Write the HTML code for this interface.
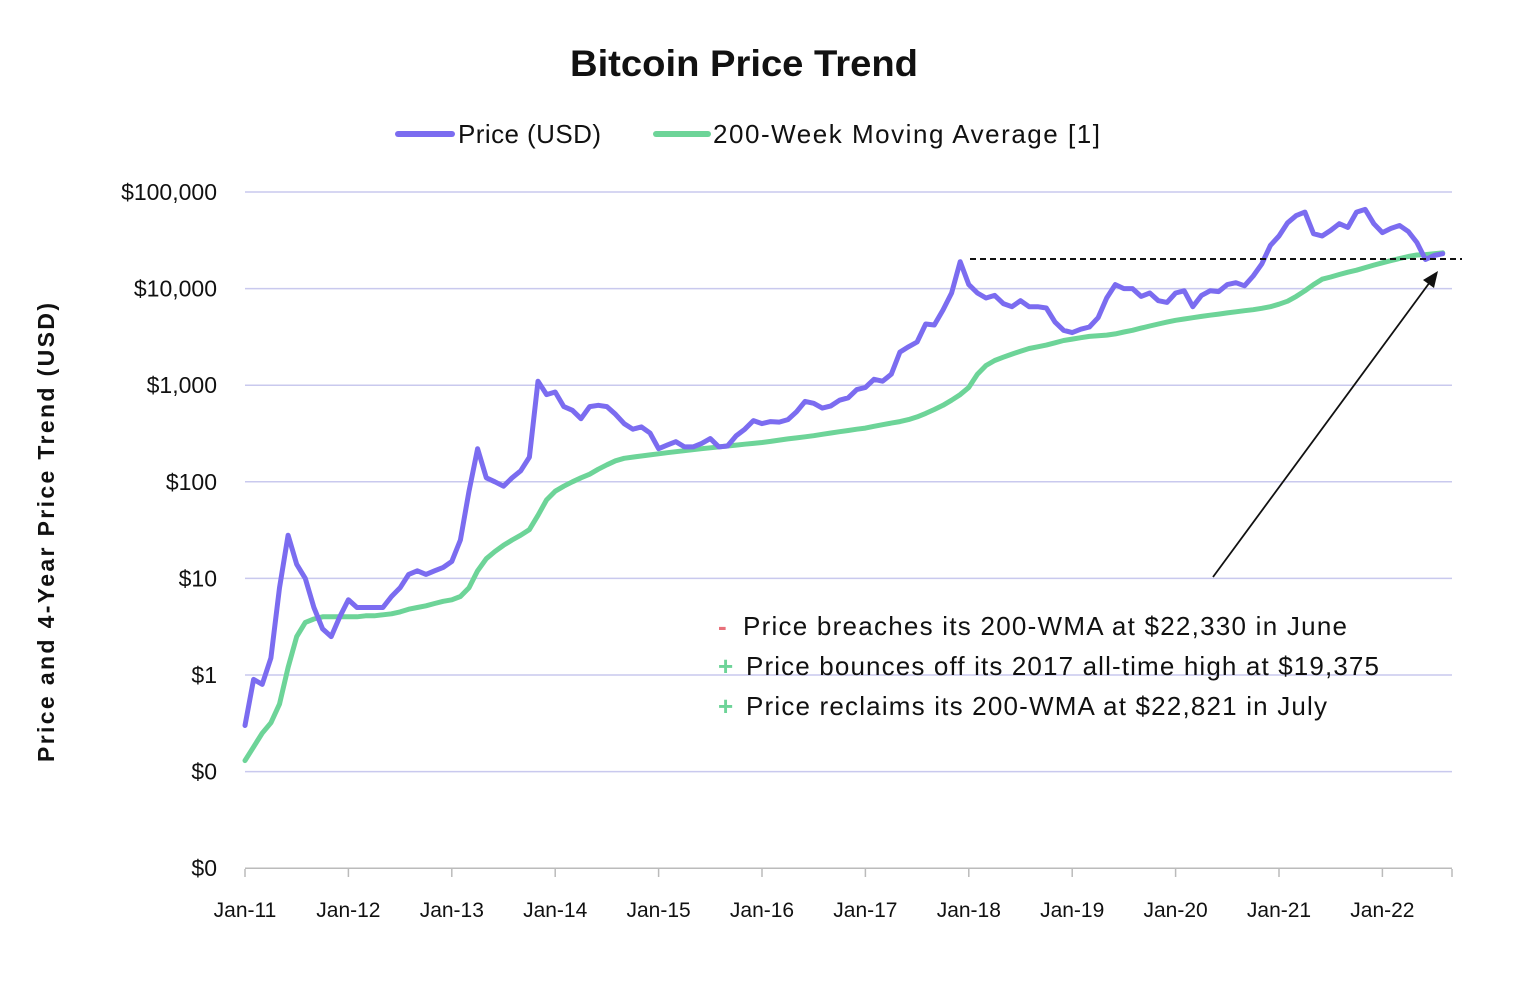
<!DOCTYPE html>
<html><head><meta charset="utf-8"><style>
body{margin:0;background:#fff;font-family:"Liberation Sans",sans-serif}
svg{display:block}
</style></head><body>
<svg id="chart" width="1532" height="1000" xmlns="http://www.w3.org/2000/svg">
<text x="570" y="76" textLength="348" lengthAdjust="spacingAndGlyphs" font-size="37" font-weight="bold" fill="#111">Bitcoin Price Trend</text>
<g>
<line x1="398" y1="134" x2="452" y2="134" stroke="#7b6cf0" stroke-width="6" stroke-linecap="round"/>
<text x="458" y="143" textLength="143" font-size="26" fill="#111">Price (USD)</text>
<line x1="656" y1="134" x2="708" y2="134" stroke="#6dd498" stroke-width="6" stroke-linecap="round"/>
<text x="713" y="143" textLength="387" font-size="26" fill="#111">200-Week Moving Average [1]</text>
</g>
<text transform="translate(54,533) rotate(-90)" x="-229" y="0" textLength="459" font-size="23" font-weight="bold" fill="#111">Price and 4-Year Price Trend (USD)</text>
<g id="grid"></g><g id="yticks"></g><g id="xticks"></g><g id="series"></g>
<line x1="970" y1="259" x2="1462" y2="259" stroke="#111" stroke-width="2" stroke-dasharray="6,4"/>
<line x1="1213" y1="577" x2="1430" y2="282" stroke="#111" stroke-width="1.8"/>
<polygon points="1438,271 1423,280 1434,288" fill="#111"/>
<g font-size="26" fill="#111">
<text x="718" y="635"><tspan fill="#e8707a" font-weight="bold">-</tspan><tspan x="743" textLength="604">Price breaches its 200-WMA at $22,330 in June</tspan></text>
<text x="718" y="675"><tspan fill="#6dd498" font-weight="bold">+</tspan><tspan x="746" textLength="633">Price bounces off its 2017 all-time high at $19,375</tspan></text>
<text x="718" y="715"><tspan fill="#6dd498" font-weight="bold">+</tspan><tspan x="746" textLength="581">Price reclaims its 200-WMA at $22,821 in July</tspan></text>
</g>
</svg>
<script>
const tickValues=[100000,10000,1000,100,10,1,0.1,0.01];
const tickLabels=["$100,000","$10,000","$1,000","$100","$10","$1","$0","$0"];
const xLabels=["Jan-11","Jan-12","Jan-13","Jan-14","Jan-15","Jan-16","Jan-17","Jan-18","Jan-19","Jan-20","Jan-21","Jan-22"];
const price=[0.3,0.9,0.8,1.5,8,28,14,10,5,3,2.5,4,
6,5,5,5,5,6.5,8,11,12,11,12,13,
15,25,80,220,110,100,90,110,130,180,1100,800,
850,600,550,450,600,620,600,500,400,350,370,320,
220,240,260,230,230,250,280,230,235,300,350,430,
400,420,415,440,530,680,650,580,610,700,740,900,
950,1150,1100,1300,2200,2500,2800,4300,4200,6000,9000,19000,
11000,9000,8000,8500,7000,6500,7500,6500,6500,6300,4500,3700,
3500,3800,4000,5000,8000,11000,10000,10000,8300,9000,7500,7200,
9000,9500,6500,8500,9500,9300,11000,11500,10700,13500,18000,28000,
35000,48000,57000,62000,37000,35000,40000,47000,43000,62000,66000,47000,
38000,42000,45000,39000,30000,20000,22000,23000];
const wma=[0.13,0.18,0.25,0.32,0.5,1.2,2.5,3.5,3.8,4,4,4,
4,4,4.1,4.1,4.2,4.3,4.5,4.8,5,5.2,5.5,5.8,
6,6.5,8,12,16,19,22,25,28,32,45,65,
80,90,100,110,120,135,150,165,175,180,185,190,
195,200,205,210,215,220,225,230,235,240,245,250,
255,262,270,278,285,292,300,310,320,330,340,350,
360,375,390,405,420,440,470,510,560,620,700,800,
950,1300,1600,1800,1950,2100,2250,2400,2500,2600,2750,2900,
3000,3100,3200,3250,3300,3400,3550,3700,3900,4100,4300,4500,
4700,4850,5000,5150,5300,5450,5600,5750,5900,6050,6250,6500,
6900,7400,8300,9500,11000,12500,13200,14000,14800,15500,16500,17500,
18500,19500,20500,21500,22300,22500,23000,23500];
const NS="http://www.w3.org/2000/svg";
const X0=245,XW=103.4,Y0=192,DEC=96.6;
const xs=m=>X0+m/12*XW;
const ys=v=>Y0+(5-Math.log10(v))*DEC;
function mk(t,a,p){const e=document.createElementNS(NS,t);for(const k in a)e.setAttribute(k,a[k]);p.appendChild(e);return e;}
const grid=document.getElementById('grid'),yt=document.getElementById('yticks'),xt=document.getElementById('xticks'),se=document.getElementById('series');
tickValues.forEach((v,i)=>{
 const y=ys(v);
 const l=mk('line',{x1:245,x2:1452,y1:y,y2:y,stroke:i==tickValues.length-1?'#bbb':'#c9c9ee','stroke-width':1.5},grid);
 
 
 const t=mk('text',{x:217,y:y+8,'text-anchor':'end','font-size':23,fill:'#111'},yt);
 t.textContent=tickLabels[i];
 
 
});
xLabels.forEach((s,i)=>{
 const x=xs(i*12);
 const tk=mk('line',{x1:x,x2:x,y1:869,y2:877,stroke:'#bbb','stroke-width':1.5},xt);
 
 
 const t=mk('text',{x:x,y:917,'text-anchor':'middle','font-size':21,fill:'#111'},xt);
 t.textContent=s;
 
 
});
mk('line',{x1:1452,x2:1452,y1:869,y2:877,stroke:'#bbb','stroke-width':1.5},xt);
function path(arr,col,w,name){
 const d=arr.map((v,i)=>(i?'L':'M')+xs(i).toFixed(1)+','+ys(v).toFixed(1)).join('');
 const p=mk('path',{d:d,fill:'none',stroke:col,'stroke-width':w,'stroke-linejoin':'round','stroke-linecap':'round'},se);
 
 
}
path(wma,'#6dd498',5,'wma-200-line');
path(price,'#7b6cf0',5,'price-line');
</script>
</body></html>
